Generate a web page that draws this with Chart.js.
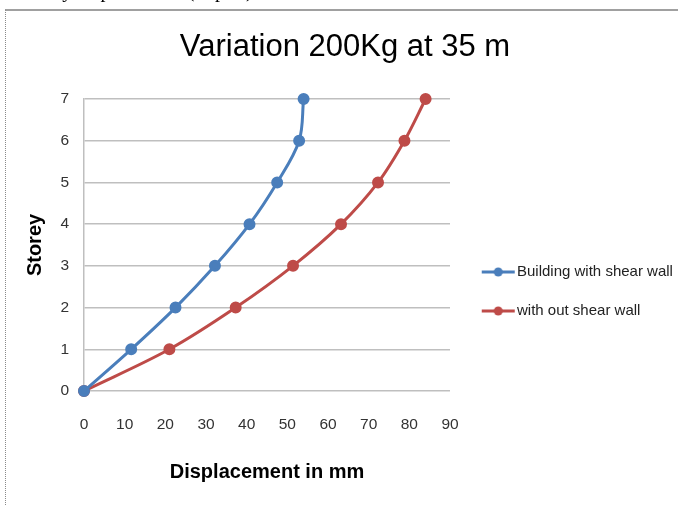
<!DOCTYPE html>
<html>
<head>
<meta charset="utf-8">
<script src="https://cdn.jsdelivr.net/npm/chart.js@4/dist/chart.umd.min.js"></script>
<style>
  body { margin: 0; background: #fff; }
  #wrap { position: relative; width: 678px; height: 506px; overflow: hidden; }
  #frame { position: absolute; left: 5px; top: 9px; width: 700px; height: 520px;
           border-top: 2px solid #a0a0a0; border-left: 1px dotted #8a8a8a; pointer-events: none; }
  #caption { position: absolute; left: 20px; top: -20px; font: 20px "Liberation Serif", serif;
             line-height: 20px; color: #000; white-space: nowrap; }
</style>
</head>
<body>
<div id="wrap">
  <div id="caption">Storey displacement (in plot)</div>
  <canvas id="chart" width="678" height="506"></canvas>
  <div id="frame"></div>
</div>
<script>
// storey levels and displacement (mm)
const storeys = [0, 1, 2, 3, 4, 5, 6, 7];
const withWall = [0, 11.6, 22.5, 32.2, 40.7, 47.5, 52.9, 54.0];
const withoutWall = [0, 21.0, 37.3, 51.4, 63.2, 72.3, 78.8, 84.0];
const seriesNames = ['Building with shear wall', 'with out shear wall'];
const colors = ['#4A7EBB', '#BE4B48'];

// legend marker: line with a dot, like the Excel one
function legendMark(color) {
  const c = document.createElement('canvas');
  c.width = 48; c.height = 12;
  const g = c.getContext('2d');
  g.strokeStyle = color; g.lineWidth = 3;
  g.beginPath(); g.moveTo(14, 6); g.lineTo(47, 6); g.stroke();
  g.fillStyle = color;
  g.beginPath(); g.arc(30.5, 6, 4.5, 0, Math.PI * 2); g.fill();
  return c;
}
const marks = colors.map(legendMark);

function points(xs) {
  return xs.map((x, i) => ({ x: x, y: storeys[i] }));
}

const sans = '"Liberation Sans", Arial, sans-serif';
const tickFont = { family: sans, size: 15.5 };

new Chart(document.getElementById('chart').getContext('2d'), {
  type: 'scatter',
  data: {
    datasets: [withWall, withoutWall].map((xs, i) => ({
      label: seriesNames[i],
      data: points(xs),
      showLine: true,
      borderColor: colors[i],
      backgroundColor: colors[i],
      borderWidth: 3,
      pointRadius: 4.5,
      pointHoverRadius: 4.5,
      tension: 0.35,
      clip: false,
    })),
  },
  options: {
    responsive: false,
    animation: false,
    layout: { padding: { left: 12, right: 0, top: 0, bottom: 0 } },
    plugins: {
      tooltip: { enabled: false },
      title: {
        display: true,
        text: 'Variation 200Kg at 35 m',
        color: '#000',
        font: { family: sans, size: 31, weight: 'normal' },
        padding: { top: 28.4, bottom: 33.4 },
      },
      legend: {
        position: 'right',
        align: 'center',
        maxWidth: 228,
        title: { display: true, text: ' ', color: 'rgba(0,0,0,0)', font: { size: 1 }, padding: { top: 75.8, bottom: 0 } },
        labels: {
          usePointStyle: true,
          pointStyleWidth: 35.5,
          padding: 24,
          color: '#222',
          font: { family: sans, size: 15 },
          generateLabels: chart => Chart.defaults.plugins.legend.labels.generateLabels(chart)
            .map((item, i) => Object.assign(item, { pointStyle: marks[i] })),
        },
      },
    },
    scales: {
      x: {
        type: 'linear',
        min: 0,
        max: 90,
        ticks: { stepSize: 10, color: '#333', font: tickFont, padding: 24 },
        grid: { display: false, drawTicks: false },
        border: { display: false },
        title: {
          display: true,
          text: 'Displacement in mm',
          color: '#000',
          font: { family: sans, size: 20, weight: 'bold' },
          padding: { top: 0, bottom: 22 },
        },
        afterFit: s => { s.height = 115; },
      },
      y: {
        type: 'linear',
        min: 0,
        max: 7,
        ticks: { stepSize: 1, color: '#333', font: tickFont, padding: 15 },
        grid: { color: '#bfbfbf', lineWidth: 1.5, drawTicks: false },
        border: { display: true, color: '#bfbfbf', width: 1.5 },
        title: {
          display: true,
          text: 'Storey',
          color: '#000',
          font: { family: sans, size: 20, weight: 'bold' },
          padding: { top: 11, bottom: 0 },
        },
        afterFit: s => { s.width = 72; },
      },
    },
  },
});
</script>
</body>
</html>
